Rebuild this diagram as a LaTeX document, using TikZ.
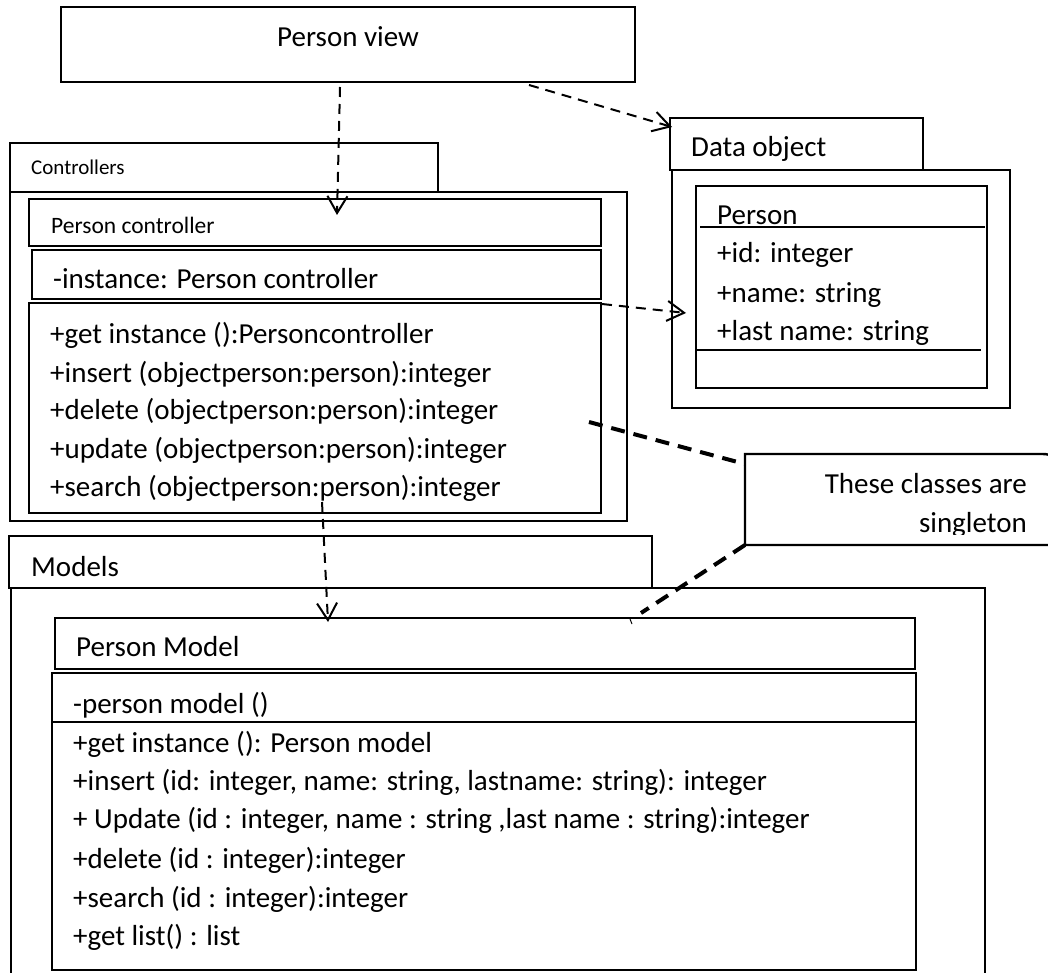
\documentclass[tikz,border=0pt]{standalone}
\usepackage{fontspec}
\setmainfont{Carlito}
\usetikzlibrary{arrows.meta}

\tikzset{
  umlbox/.style={draw, line width=2pt, inner sep=0pt, outer sep=0pt, anchor=north west},
  thinbox/.style={umlbox, line width=1.3pt},
  txt/.style={inner sep=0pt, anchor=base west, font=\fontsize{29}{35}\selectfont},
  smalltxt/.style={txt, font=\fontsize{23.5}{28}\selectfont},
  tinytxt/.style={txt, font=\fontsize{21}{25}\selectfont},
  sepline/.style={line width=1.3pt},
  depend/.style={line width=2pt, dash pattern=on 10pt off 7pt,
    -{Straight Barb[length=17pt, width=20pt, line width=2pt]}},
  anchorline/.style={line width=4pt, dash pattern=on 14pt off 9pt}
}

\begin{document}
\begin{tikzpicture}[x=1pt, y=-1pt]
\useasboundingbox (0,0) rectangle (1048,973);

% view
\node[umlbox, minimum width=574pt, minimum height=75pt] (view) at (61,7) {};
\node[txt, anchor=base] (viewname) at (348,47) {Person view};

% controllers package
\node[umlbox, minimum width=428pt, minimum height=49pt] (ctab) at (10,143) {};
\node[tinytxt] (ctabname) at (31,175) {Controllers};
\node[umlbox, minimum width=617pt, minimum height=329pt] (cbody) at (10,192) {};
\node[umlbox, minimum width=572pt, minimum height=47pt] (pctitle) at (29,199) {};
\node[smalltxt] (pcname) at (51,234) {Person controller};
\node[umlbox, minimum width=569pt, minimum height=49pt] (pcattr) at (32,250) {};
\node[txt] (pcinst) at (53,289) {-instance: Person controller};
\node[umlbox, minimum width=572pt, minimum height=210pt] (pcops) at (29,303) {};
\node[txt] (pcop1) at (50,343) {+get instance ():Personcontroller};
\node[txt] (pcop2) at (50,382) {+insert (objectperson:person):integer};
\node[txt] (pcop3) at (50,419) {+delete (objectperson:person):integer};
\node[txt] (pcop4) at (50,458) {+update (objectperson:person):integer};
\node[txt] (pcop5) at (50,496) {+search (objectperson:person):integer};

% data object package
\node[umlbox, minimum width=253pt, minimum height=52pt] (dtab) at (670,118) {};
\node[txt] (dtabname) at (691,157) {Data object};
\node[umlbox, minimum width=338pt, minimum height=238pt] (dbody) at (672,170) {};
\node[umlbox, line width=2.4pt, minimum width=291pt, minimum height=202pt] (person) at (696,186) {};
\node[txt] (personname) at (717,225) {Person};
\draw[sepline] (700,227) -- (985,227);
\node[txt] (pattr1) at (717,263) {+id: integer};
\node[txt] (pattr2) at (717,302) {+name: string};
\node[txt] (pattr3) at (717,340) {+last name: string};
\draw[sepline] (697,350) -- (981,350);

% models package
\node[thinbox, minimum width=643pt, minimum height=52pt] (mtab) at (9,536) {};
\node[txt] (mtabname) at (31,576) {Models};
\node[umlbox, minimum width=974pt, minimum height=420pt] (mbody) at (11,588) {};
\node[thinbox, minimum width=860pt, minimum height=51pt] (pmtitle) at (55,618) {};
\node[txt] (pmname) at (76,656) {Person Model};
\node[umlbox, minimum width=864pt, minimum height=297pt] (pmops) at (52,673) {};
\node[txt] (pmctor) at (73,713) {-person model ()};
\draw[sepline] (52,722) -- (916,722);
\node[txt] (pmop1) at (73,752) {+get instance (): Person model};
\node[txt] (pmop2) at (73,790) {+insert (id: integer, name: string, lastname: string): integer};
\node[txt] (pmop3) at (73,828) {+ Update (id : integer, name : string ,last name : string):integer};
\node[txt] (pmop4) at (73,868) {+delete (id : integer):integer};
\node[txt] (pmop5) at (73,907) {+search (id : integer):integer};
\node[txt] (pmop6) at (73,945) {+get list() : list};

% note
\node[inner sep=0pt, outer sep=0pt, anchor=north west, minimum width=306pt, minimum height=91pt] (note) at (745,454) {};
\fill[white] (note.south west) rectangle (note.north east);
\draw[line width=2.4pt] (note.south east) -- (note.south west) -- (note.north west)
  -- ([xshift=-12pt]note.north east) .. controls (note.north east) .. ([yshift=-12pt]note.north east)
  -- (note.south east);
\begin{scope}
  \clip (745,454) rectangle (1048,534);
  \node[txt, anchor=base east] (notel1) at (1027,493) {These classes are};
  \node[txt, anchor=base east] (notel2) at (1027,532) {singleton};
\end{scope}

% connector ends
\coordinate (viewdown) at (340,87);
\coordinate (pcin) at (337,215);
\coordinate (viewright) at (529,85);
\coordinate (dtabin) at (672,127);
\coordinate (pcopscorner) at (602,304);
\coordinate (personin) at (686,313);
\coordinate (pcopsout) at (322,502);
\coordinate (pmin) at (328,622);
\coordinate (pcopsnote) at (589,422);
\coordinate (notein) at (745,464);
\coordinate (pmnote) at (641,613);

% dependencies
\draw[depend] (viewdown) -- (pcin);
\draw[depend] (viewright) -- (dtabin);
\draw[depend] (pcopscorner) -- (personin);
\draw[depend] (pcopsout) -- (pmin);

% note anchors
\draw[anchorline] (pcopsnote) -- (notein);
\draw[anchorline] (note.south west) -- (pmnote);
\draw[line width=1pt] (630,619) -- (632,624);
\end{tikzpicture}
\end{document}
